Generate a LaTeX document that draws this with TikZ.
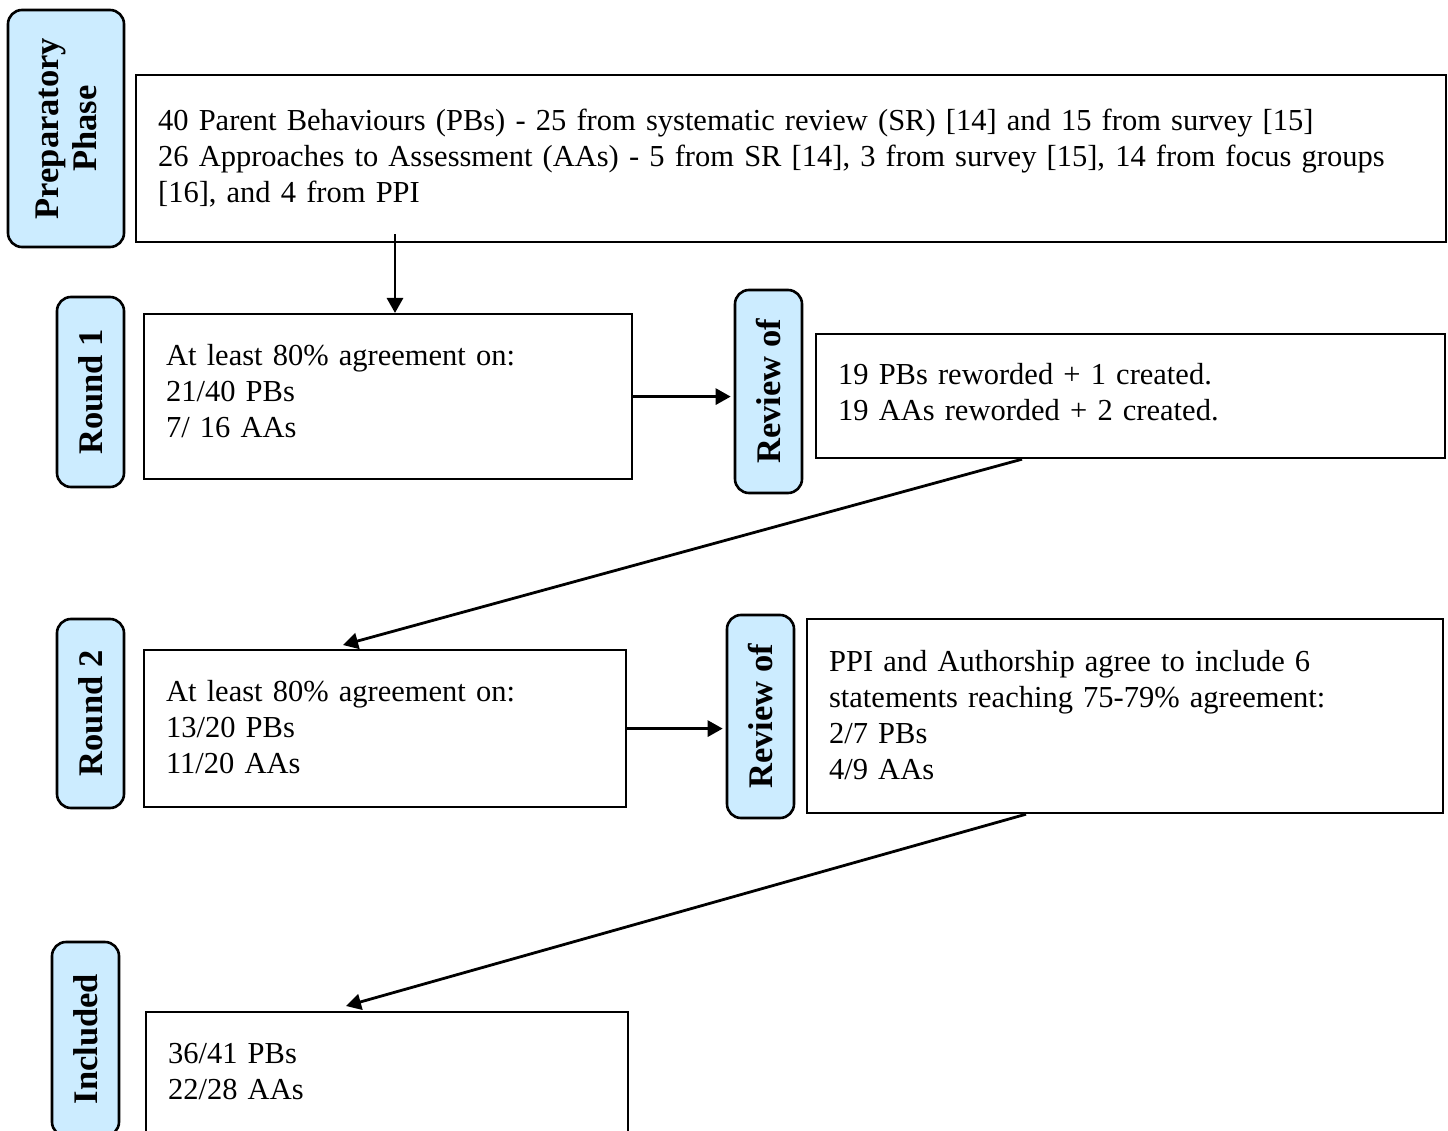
\documentclass[tikz,border=0pt]{standalone}
\usepackage{fontspec}
\setmainfont{Liberation Serif}
\usetikzlibrary{arrows.meta,calc}
\definecolor{tagblue}{RGB}{204,236,255}
\newcommand{\liftby}[1]{\rule[-#1]{0pt}{0pt}}
\begin{document}
\begin{tikzpicture}[x=1pt,y=-1pt,
  box/.style={draw,line width=2.2pt,rectangle,inner xsep=22pt,inner ysep=0pt,align=left,anchor=north west,font=\fontsize{30.5}{36}\selectfont},
  tagbox/.style={draw,line width=2.6pt,fill=tagblue,rounded corners=14pt,rotate=90,font=\bfseries\fontsize{34.5}{38}\selectfont,align=center,inner sep=0pt},
  arr/.style={line width=2.8pt,-{Triangle[length=15pt,width=16pt]}}]
\useasboundingbox (0,0) rectangle (1448,1131);

% tags
\node[tagbox,minimum width=237pt,minimum height=116pt] (prep) at (66,128.5) {Preparatory\\Phase};
\node[tagbox,minimum width=190pt,minimum height=67pt] (r1) at (90.5,392) {Round 1};
\node[tagbox,minimum width=203pt,minimum height=67pt] (rev1) at (768.5,391.5) {Review of};
\node[tagbox,minimum width=189pt,minimum height=67pt] (r2) at (90.5,713.5) {Round 2};
\node[tagbox,minimum width=203pt,minimum height=67pt] (rev2) at (760.5,716.5) {Review of};
\node[tagbox,minimum width=194pt,minimum height=67pt] (incl) at (85.5,1039) {Included};

% boxes
\node[box,text width=1266pt,minimum height=167pt] (b1) at (135,74)
 {40 Parent Behaviours (PBs) - 25 from systematic review (SR) [14] and 15 from survey [15]\\
  26 Approaches to Assessment (AAs) - 5 from SR [14], 3 from survey [15], 14 from focus groups\\
  {[16]}, and 4 from PPI\liftby{4pt}};
\node[box,text width=444pt,minimum height=165pt] (b2) at (143,313)
 {At least 80\% agreement on:\\21/40 PBs\\7/ 16 AAs\liftby{12pt}};
\node[box,text width=585pt,minimum height=124pt] (b3) at (815,333)
 {19 PBs reworded + 1 created.\\19 AAs reworded + 2 created.\liftby{8pt}};
\node[box,text width=438pt,minimum height=157pt] (b4) at (143,649)
 {At least 80\% agreement on:\\13/20 PBs\\11/20 AAs\liftby{4pt}};
\node[box,text width=592pt,minimum height=194pt] (b5) at (806,618)
 {PPI and Authorship agree to include 6\\statements reaching 75-79\% agreement:\\2/7 PBs\\4/9 AAs\liftby{3pt}};
\node[box,text width=438pt,minimum height=122pt] (b6) at (145,1011)
 {36/41 PBs\\22/28 AAs\liftby{4pt}};

% arrows
\draw[arr] ($(b1.south west)+(260,-9)$) -- ($(b2.north west)+(252,0)$);
\draw[arr,shorten >=3pt] (b2.east) -- (b2.east -| rev1.north);
\draw[arr] ($(b3.south west)+(207,0)$) -- ($(b4.north west)+(200,-4)$);
\draw[arr,shorten >=3pt] (b4.east) -- (b4.east -| rev2.north);
\draw[arr] ($(b5.south west)+(220,0)$) -- ($(b6.north west)+(201,-5)$);
\end{tikzpicture}
\end{document}
